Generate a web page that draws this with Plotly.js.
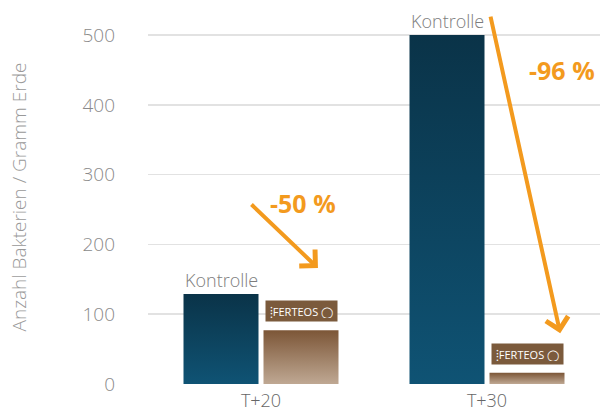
<!DOCTYPE html>
<html>
<head>
<meta charset="utf-8">
<script src="https://cdn.plot.ly/plotly-3.0.1.min.js"></script>
<style>
html,body{margin:0;padding:0;background:#fff;}
#chart{width:600px;height:417px;}
</style>
</head>
<body>
<div id="chart"></div>
<script>
// Data
const categories = ['T+20', 'T+30'];
const kontrolleValues = [129, 500];
const ferteosValues = [77, 16];
const yTicks = [0, 100, 200, 300, 400, 500];
const seriesNames = ['Kontrolle', 'FERTEOS'];
const reductionLabels = ['-50 %', '-96 %'];

const orange = '#F39A1E';
const FONT = '"Open Sans", Lato, sans-serif';

const traces = [
  {
    type: 'bar', name: seriesNames[0], x: categories, y: kontrolleValues,
    marker: {color: '#0d4360'}, hoverinfo: 'skip'
  },
  {
    type: 'bar', name: seriesNames[1], x: categories, y: ferteosValues,
    marker: {color: '#9c7d62'}, hoverinfo: 'skip'
  }
];

const annotations = [];
categories.forEach((c, i) => {
  annotations.push({
    x: c, y: kontrolleValues[i], xref: 'x', yref: 'y', xshift: -40, yshift: 0,
    xanchor: 'center', yanchor: 'bottom', showarrow: false, text: seriesNames[0],
    font: {family: FONT, size: 18, weight: 300, color: '#7d7d7d'}
  });
  annotations.push({
    x: c, y: ferteosValues[i], xref: 'x', yref: 'y', xshift: 40, yshift: 8,
    xanchor: 'center', yanchor: 'bottom', showarrow: false, text: '⁞FERTEOS ◯',
    bgcolor: '#7b5a3c', borderpad: 3, width: 65, height: 14,
    font: {family: FONT, size: 11, color: '#ffffff'}
  });
});

// Arrows (decorative)
annotations.push({
  xref: 'paper', yref: 'paper', x: 0.376, y: 0.310, ax: -68, ay: -65,
  showarrow: true, arrowhead: 4, arrowsize: 1.1, arrowwidth: 4, arrowcolor: orange, text: ''
});
annotations.push({
  xref: 'paper', yref: 'paper', x: 0.912, y: 0.136, ax: -70, ay: -318,
  showarrow: true, arrowhead: 4, arrowsize: 1.1, arrowwidth: 4, arrowcolor: orange, text: ''
});
annotations.push({
  xref: 'paper', yref: 'paper', x: (303 - 148) / 452, y: (384 - 203) / 374,
  xanchor: 'center', yanchor: 'middle',
  showarrow: false, text: '<b>' + reductionLabels[0] + '</b>',
  font: {family: FONT, size: 25, color: orange}
});
annotations.push({
  xref: 'paper', yref: 'paper', x: (562 - 148) / 452, y: (384 - 70) / 374,
  xanchor: 'center', yanchor: 'middle',
  showarrow: false, text: '<b>' + reductionLabels[1] + '</b>',
  font: {family: FONT, size: 25, color: orange}
});

const layout = {
  width: 600, height: 417,
  margin: {l: 148, r: 0, t: 10, b: 33},
  paper_bgcolor: '#ffffff', plot_bgcolor: '#ffffff',
  showlegend: false,
  barmode: 'group', bargap: 0.292, bargroupgap: 0.0625,
  font: {family: FONT},
  xaxis: {
    type: 'category', showgrid: false, zeroline: false, showline: false,
    ticks: '', ticklabelstandoff: 4,
    tickfont: {family: FONT, size: 18, weight: 300, color: '#666666'}
  },
  yaxis: {
    range: [0, 536], tickvals: yTicks, ticktext: yTicks.map(String),
    showgrid: true, gridcolor: '#e2e2e2', gridwidth: 1.5,
    zeroline: false, showline: false, ticks: '',
    ticklabelstandoff: 32,
    tickfont: {family: FONT, size: 19, weight: 300, color: '#8a8a8a'},
    title: {text: 'Anzahl Bakterien / Gramm Erde', standoff: 50,
      font: {family: FONT, size: 19, weight: 300, color: '#999999'}}
  },
  annotations: annotations
};

Plotly.newPlot('chart', traces, layout, {staticPlot: true, displayModeBar: false}).then(() => {
  const svg = document.querySelector('#chart svg.main-svg');
  const NS = 'http://www.w3.org/2000/svg';
  let defs = svg.querySelector('defs');
  if (!defs) { defs = document.createElementNS(NS, 'defs'); svg.insertBefore(defs, svg.firstChild); }
  function grad(id, top, bottom) {
    const g = document.createElementNS(NS, 'linearGradient');
    g.setAttribute('id', id);
    g.setAttribute('x1', '0'); g.setAttribute('y1', '0');
    g.setAttribute('x2', '0'); g.setAttribute('y2', '1');
    [[0, top], [1, bottom]].forEach(([o, c]) => {
      const s = document.createElementNS(NS, 'stop');
      s.setAttribute('offset', o); s.setAttribute('stop-color', c);
      g.appendChild(s);
    });
    defs.appendChild(g);
  }
  grad('gradK', '#0a3348', '#0f5374');
  grad('gradF', '#7c5637', '#bfa893');
  const barTraces = document.querySelectorAll('#chart g.trace.bars');
  barTraces.forEach((t, i) => {
    t.querySelectorAll('path').forEach(p => {
      p.style.fill = i === 0 ? 'url(#gradK)' : 'url(#gradF)';
    });
  });
});
</script>
</body>
</html>
